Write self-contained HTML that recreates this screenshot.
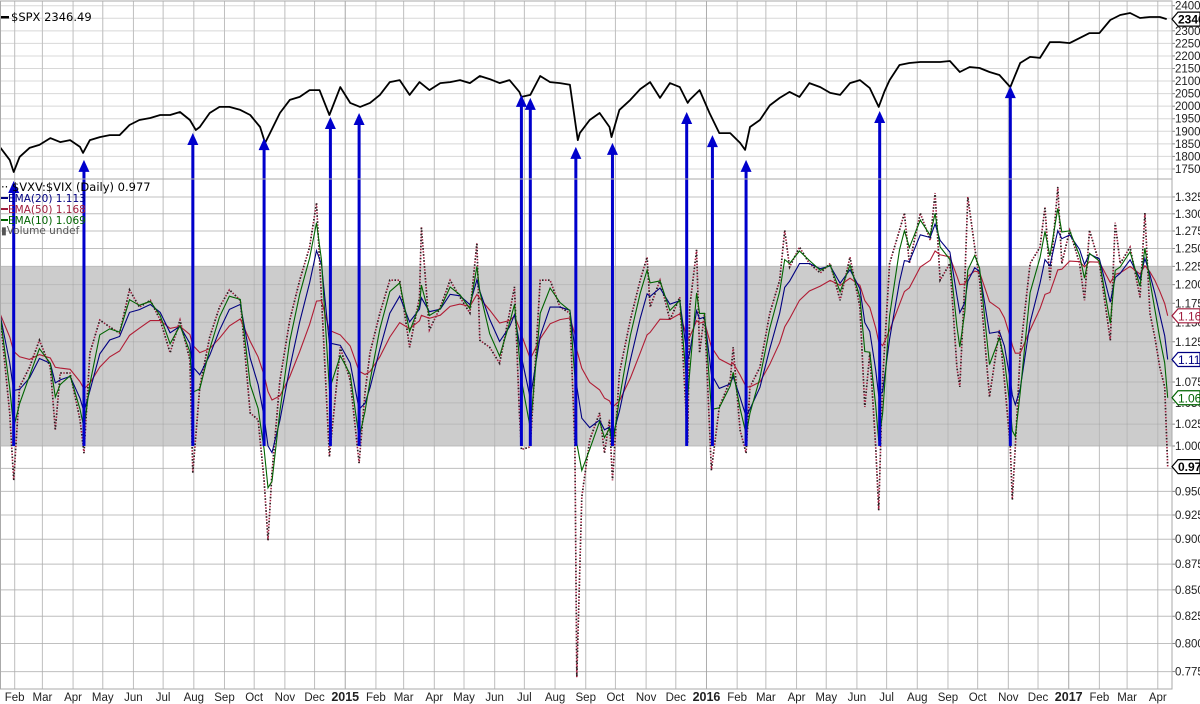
<!DOCTYPE html>
<html><head><meta charset="utf-8">
<style>
html,body{margin:0;padding:0;background:#fff;}
svg{display:block;}
text{font-family:"DejaVu Sans","Liberation Sans",sans-serif;}
.ax{font-family:"Liberation Sans",sans-serif;}
</style></head>
<body>
<svg id="chart" width="1200" height="704" viewBox="0 0 1200 704" xmlns="http://www.w3.org/2000/svg">
  <g id="grid"></g>
  <rect id="band" fill="#cccccc"></rect>
  <g id="grid2"></g>
  <g id="series"></g>
  <g id="axes"></g>
  <g id="legend">
    <rect x="1" y="16" width="8" height="2.5" fill="#000"/>
    <text x="11" y="21" font-size="11.5" fill="#000">$SPX 2346.49</text>
    <text x="1" y="191" font-size="11.5" fill="#000">·· $VXV:$VIX (Daily) 0.977</text>
    <rect x="1" y="197" width="7" height="2" fill="#000080"/>
    <text x="8" y="202" font-size="10.5" fill="#000080">EMA(20) 1.113</text>
    <rect x="1" y="208" width="7" height="2" fill="#a01c3c"/>
    <text x="8" y="213" font-size="10.5" fill="#a01c3c">EMA(50) 1.168</text>
    <rect x="1" y="219" width="7" height="2" fill="#006400"/>
    <text x="8" y="224" font-size="10.5" fill="#006400">EMA(10) 1.069</text>
    <text x="1" y="234" font-size="10.5" fill="#555">▮Volume undef</text>
  </g>
</svg>
<script>
// ---------- data ----------
// day offsets since 2014-01-01
const spxDays = [16,26,30,36,46,56,67,77,87,97,100,107,117,127,137,147,157,168,178,188,198,208,214,218,228,238,248,259,269,279,284,289,299,309,319,329,339,349,360,370,380,390,400,410,420,430,440,450,461,471,481,491,501,511,521,531,541,543,552,562,572,582,592,600,602,612,622,632,634,642,653,663,673,683,693,703,711,713,723,733,743,754,764,769,774,784,794,804,814,824,834,845,855,865,875,885,895,904,910,915,925,935,946,956,966,976,986,996,1006,1016,1026,1037,1047,1057,1067,1077,1087,1097,1107,1117,1127,1138,1148,1158,1168,1178,1188,1195];
const spxVals = [1838,1786,1738,1798,1834,1846,1873,1857,1865,1838,1814,1865,1877,1885,1885,1925,1945,1953,1965,1965,1977,1945,1905,1917,1973,1997,1997,1985,1965,1917,1854,1893,1973,2025,2037,2064,2064,1965,2076,2013,1997,2013,2045,2096,2104,2045,2096,2064,2092,2096,2104,2092,2120,2108,2092,2104,2057,2037,2045,2120,2096,2092,2085,1865,1893,1945,1973,1917,1877,1985,2025,2068,2096,2033,2092,2076,2013,2025,2064,1973,1893,1893,1854,1826,1917,1945,2003,2033,2057,2037,2092,2076,2053,2045,2092,2104,2072,1997,2060,2104,2164,2172,2176,2176,2176,2180,2136,2156,2152,2136,2124,2076,2172,2196,2192,2255,2255,2251,2271,2291,2291,2343,2363,2371,2351,2355,2355,2346.49];

const ratioDays = [16,26,30,36,46,56,67,72,77,87,97,101,107,117,127,137,147,157,168,178,188,198,208,211,218,228,238,248,259,269,277,283,287,291,299,309,319,329,336,341,349,360,370,379,385,390,400,410,420,430,440,442,450,461,471,481,491,498,501,511,521,531,536,541,543,552,562,572,582,592,597,599,604,612,622,627,632,635,642,653,663,670,673,683,693,703,711,713,720,723,728,735,743,754,757,764,770,774,784,794,804,809,814,824,834,845,855,865,875,885,890,895,901,904,908,915,925,930,935,946,956,961,966,976,983,986,991,994,1001,1006,1016,1026,1031,1037,1039,1042,1047,1057,1067,1072,1077,1085,1089,1097,1107,1112,1117,1127,1138,1143,1148,1158,1168,1173,1178,1183,1188,1193,1196];
const ratioVals = [1.162,1.038,0.962,1.069,1.093,1.127,1.093,1.018,1.086,1.086,1.030,0.992,1.111,1.153,1.144,1.136,1.193,1.170,1.179,1.153,1.111,1.153,1.102,0.970,1.069,1.131,1.170,1.193,1.179,1.038,1.030,0.962,0.899,0.970,1.077,1.153,1.206,1.252,1.316,1.183,0.988,1.118,1.077,0.981,1.062,1.111,1.162,1.206,1.206,1.118,1.183,1.281,1.140,1.170,1.206,1.183,1.162,1.258,1.127,1.118,1.098,1.162,1.197,1.038,0.996,0.999,1.206,1.206,1.170,1.162,0.999,0.770,0.944,1.007,1.038,0.992,1.030,0.962,1.086,1.153,1.206,1.238,1.170,1.206,1.153,1.183,1.003,1.170,1.248,1.111,1.162,0.973,1.045,1.077,1.118,1.018,0.992,1.069,1.093,1.162,1.206,1.276,1.224,1.252,1.229,1.216,1.229,1.179,1.238,1.170,1.045,1.111,0.999,0.930,1.077,1.229,1.276,1.301,1.229,1.301,1.262,1.331,1.206,1.229,1.093,1.069,1.206,1.325,1.252,1.206,1.057,1.140,1.077,0.999,0.941,0.999,1.111,1.229,1.252,1.310,1.206,1.340,1.229,1.276,1.229,1.179,1.276,1.229,1.127,1.287,1.229,1.252,1.183,1.301,1.162,1.131,1.093,1.069,0.977];

const arrowDays = [30,101,211,283,350,379,543,552,598,635,710,736,770,905,1037];
const arrowTips = [1702,1786,1893,1873,1957,1973,2045,2033,1838,1854,1977,1885,1786,1981,2080];
const arrowBase = 1.0;

const spxTicks = [2400,2350,2300,2250,2200,2150,2100,2050,2000,1950,1900,1850,1800,1750];
const ratioTicks = [1.325,1.300,1.275,1.250,1.225,1.200,1.175,1.150,1.125,1.100,1.075,1.050,1.025,1.000,0.975,0.950,0.925,0.900,0.875,0.850,0.825,0.800,0.775];
const monthNames = ["Jan","Feb","Mar","Apr","May","Jun","Jul","Aug","Sep","Oct","Nov","Dec"];
const bandRange = [1.000,1.225];

// ---------- scales ----------
const NS="http://www.w3.org/2000/svg";
const PR=1172, TOP0=1, TOP1=179, BOT1=689;
const xS = d => -16 + d*0.9897;
const yTop = v => 5.7 + (2400 - v)/50*12.56;
const yBot = v => 446 - 885*Math.log(v);
function mk(tag, attrs, parent){const e=document.createElementNS(NS,tag);for(const k in attrs)e.setAttribute(k,attrs[k]);parent.appendChild(e);return e;}

const grid=document.getElementById('grid'), grid2=document.getElementById('grid2'), ser=document.getElementById('series'), axes=document.getElementById('axes');

const band=document.getElementById('band');
band.setAttribute('x',0);band.setAttribute('width',PR);
band.setAttribute('y',yBot(bandRange[1]));band.setAttribute('height',yBot(bandRange[0])-yBot(bandRange[1]));

spxTicks.forEach(v=>{
  const y=yTop(v);
  const l=mk('line',{x1:0,x2:PR,y1:y,y2:y,stroke:'#d8d8d8','stroke-width':1},grid);
  
  
  mk('line',{x1:PR,x2:PR+3,y1:y,y2:y,stroke:'#888'},axes);
  const t=mk('text',{x:PR+3,y:y+4,'font-size':11.5,fill:'#222',class:'ax'},axes);
  t.textContent=v;
  
  
});
ratioTicks.forEach(v=>{
  const y=yBot(v);
  [grid,grid2].forEach((g,i)=>{
    const l=mk('line',{x1:0,x2:PR,y1:y,y2:y,stroke:i?'rgba(150,150,150,0.35)':'#d8d8d8','stroke-width':1},g);
    
    
  });
  mk('line',{x1:PR,x2:PR+3,y1:y,y2:y,stroke:'#888'},axes);
  const t=mk('text',{x:PR+3,y:y+4,'font-size':11.5,fill:'#222',class:'ax'},axes);
  t.textContent=v.toFixed(3);
  
  
});

const base=Date.UTC(2014,0,1);
for(let y=2014;y<=2017;y++){for(let m=0;m<12;m++){
  const d=(Date.UTC(y,m,1)-base)/86400000;
  const x=xS(d);
  if(x<3||x>PR-3) continue;
  const isYear=m===0;
  [grid,grid2].forEach((g,i)=>{
    const l=mk('line',{x1:x,x2:x,y1:TOP0,y2:BOT1,stroke:i?'rgba(150,150,150,0.35)':(isYear?'#bbb':'#d8d8d8'),'stroke-width':1},g);
    
    
  });
  const t=mk('text',{x:x,y:701,'font-size':isYear?12.5:11.5,'text-anchor':'middle',fill:'#222','font-weight':isYear?'bold':'normal',class:'ax'},axes);
  t.textContent=isYear?String(y):monthNames[m];
  
  
}}

mk('rect',{x:0.5,y:TOP0,width:PR-0.5,height:BOT1-TOP0,fill:'none',stroke:'#aaa'},axes);
mk('line',{x1:0,x2:PR,y1:TOP1,y2:TOP1,stroke:'#aaa'},axes);

function ema(days,vals,N){
  const out=[];let e=vals[0];
  for(let i=0;i<vals.length;i++){
    if(i>0){const dt=(days[i]-days[i-1])*5/7;const a=1-Math.pow(1-2/(N+1),dt);e=e+a*(vals[i]-e);}
    out.push(e);
  }
  return out;
}
function pathOf(days,vals,yf){return days.map((d,i)=>(i?'L':'M')+xS(d).toFixed(1)+','+yf(vals[i]).toFixed(1)).join('');}

const e50=ema(ratioDays,ratioVals,50), e20=ema(ratioDays,ratioVals,20), e10=ema(ratioDays,ratioVals,10);
const rp=pathOf(ratioDays,ratioVals,yBot);
let p=mk('path',{d:rp,fill:'none',stroke:'#a01c3c','stroke-width':1.6,'stroke-dasharray':'1.5 1.5'},ser);


p=mk('path',{d:rp,fill:'none',stroke:'#222','stroke-width':1.6,'stroke-dasharray':'1.5 4.5'},ser);


p=mk('path',{d:pathOf(ratioDays,e50,yBot),fill:'none',stroke:'#b01c34','stroke-width':1.1},ser);


p=mk('path',{d:pathOf(ratioDays,e20,yBot),fill:'none',stroke:'#000080','stroke-width':1.1},ser);


p=mk('path',{d:pathOf(ratioDays,e10,yBot),fill:'none',stroke:'#006400','stroke-width':1.1},ser);



p=mk('path',{d:pathOf(spxDays,spxVals,yTop),fill:'none',stroke:'#000','stroke-width':1.8,'stroke-linejoin':'round'},ser);



arrowDays.forEach((d,i)=>{
  const x=xS(d), yt=yTop(arrowTips[i]), yb=yBot(arrowBase);
  const l=mk('line',{x1:x,x2:x,y1:yb,y2:yt+10,stroke:'#0000cc','stroke-width':3},ser);
  
  
  const h=mk('polygon',{points:`${x-5.5},${yt+12} ${x+5.5},${yt+12} ${x},${yt}`,fill:'#0000cc'},ser);
  
  
});

function tag(y,txt,col,bold,name){
  const g=mk('g',{},axes);
  
  
  mk('polygon',{points:`${PR},${y} ${PR+6},${y-7} ${1200},${y-7} ${1200},${y+7} ${PR+6},${y+7}`,fill:'#fff',stroke:col,'stroke-width':1.2},g);
  const t=mk('text',{x:PR+6,y:y+4.5,'font-size':12,fill:bold?'#000':col,'font-weight':bold?'bold':'normal',class:'ax'},g);
  t.textContent=txt;
}
tag(yTop(spxVals[spxVals.length-1]),spxVals[spxVals.length-1].toFixed(2),'#000',true,'spx-value-tag');
tag(yBot(e50[e50.length-1]),'1.168','#a01c3c',false,'ema50-value-tag');
tag(yBot(e20[e20.length-1]),'1.113','#000080',false,'ema20-value-tag');
tag(yBot(e10[e10.length-1]),'1.069','#006400',false,'ema10-value-tag');
tag(yBot(ratioVals[ratioVals.length-1]),ratioVals[ratioVals.length-1].toFixed(3),'#000',true,'ratio-value-tag');
</script>
</body></html>
